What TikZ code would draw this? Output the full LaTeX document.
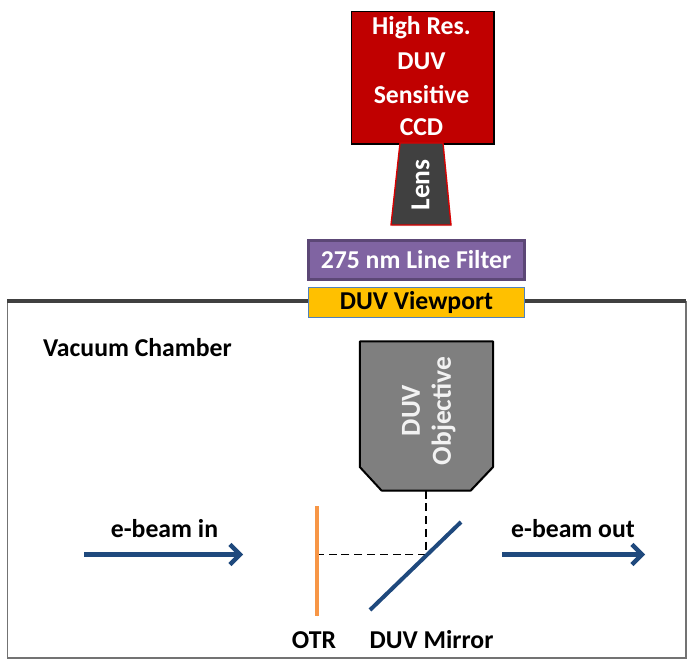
\documentclass[tikz,border=0pt]{standalone}
\usepackage{fontspec}
\setmainfont{Carlito}
\usetikzlibrary{arrows.meta,shadows}
\definecolor{ccdred}{HTML}{C00000}
\definecolor{lensgrey}{HTML}{404040}
\definecolor{objgrey}{HTML}{7F7F7F}
\definecolor{filterfill}{HTML}{8064A2}
\definecolor{filterline}{HTML}{5C4776}
\definecolor{viewfill}{HTML}{FFC000}
\definecolor{viewline}{HTML}{4F81BD}
\definecolor{beamblue}{HTML}{1F497D}
\definecolor{otrorange}{HTML}{F79646}
\definecolor{wallgrey}{HTML}{404040}
\tikzset{
  softshadow/.style={drop shadow={opacity=0.3,shadow xshift=0.6pt,shadow yshift=-0.9pt}},
  lbl/.style={font=\bfseries\fontsize{19.3}{19.3}\selectfont,text=black,inner sep=0pt,anchor=center},
  whitelbl/.style={lbl,text=white},
  biglbl/.style={whitelbl,rotate=90,font=\bfseries\fontsize{20.6}{20.6}\selectfont},
  boxy/.style={draw,inner sep=0pt,anchor=north west,softshadow},
  beam/.style={draw=beamblue,line width=3.2pt,softshadow,
     -{Straight Barb[length=7.5pt,width=15pt,line width=3.2pt]}},
  mirrorline/.style={line width=3pt,softshadow},
  ray/.style={draw=black,line width=0.8pt,dash pattern=on 6pt off 3.6pt},
}
\begin{document}
\begin{tikzpicture}[x=0.75pt,y=-0.75pt]
\useasboundingbox (0,0) rectangle (687,660);
% chamber
\draw[black!55,line width=0.9pt] (7.5,301) -- (7.5,658) -- (686,658) -- (686,301);
\draw[wallgrey,line width=3pt,softshadow] (7,301) -- (686,301);
% camera
\node[boxy,fill=ccdred,draw=black,line width=1pt,minimum width=107pt,minimum height=99.5pt] (ccd) at (350.7,10.7) {};
\path[fill=lensgrey,draw=red!85!black,line width=1pt,softshadow] (400,143) -- (443,143) -- (451,225) -- (391,225) -- cycle;
\node[biglbl] (lens) at (420.5,185) {Lens};
\node[whitelbl] (t1) at (421.5,28) {High Res.};
\node[whitelbl] (t2) at (421.5,61) {DUV};
\node[whitelbl] (t3) at (421.5,94.5) {Sensitive};
\node[whitelbl] (t4) at (421.5,127.5) {CCD};
% filter and viewport
\node[boxy,fill=filterfill,draw=filterline,line width=2pt,minimum width=162pt,minimum height=29pt] (filter) at (307.3,239.2) {};
\node[whitelbl] (ftxt) at (416,260) {275 nm Line Filter};
\node[boxy,fill=viewfill,draw=viewline,line width=1pt,minimum width=162pt,minimum height=22.2pt] (view) at (307.7,287) {};
\node[lbl] (vtxt) at (416.5,302.5) {DUV Viewport};
% objective
\path[fill=objgrey,draw=black,line width=1.5pt,line join=round,softshadow] (359.8,341.5) -- (493,341.5) -- (493,467) -- (470.7,490.5) -- (381.5,490.5) -- (359.8,467) -- cycle;
\coordinate (objout) at (426,490.5);
\node[biglbl,text=white!95!black] (o1) at (411,410.5) {DUV};
\node[biglbl,text=white!95!black] (o2) at (443.5,411) {Objective};
% optics
\coordinate (m1) at (370,610);
\coordinate (m2) at (461,522);
\coordinate (o1a) at (316.5,506);
\coordinate (o1b) at (316.5,616);
\coordinate (bend) at (426,554.7);
\coordinate (otrhit) at (317,554.7);
\draw[ray] (objout) -- (bend) -- (otrhit);
\draw[otrorange,mirrorline] (o1a) -- (o1b);
\draw[beamblue,mirrorline] (m1) -- (m2);
% beams
\coordinate (ina) at (84,554.5);
\coordinate (inb) at (243,554.5);
\coordinate (outa) at (502,554.5);
\coordinate (outb) at (645,554.5);
\draw[beam] (ina) -- (inb);
\draw[beam] (outa) -- (outb);
% labels
\node[lbl] (vac) at (137.5,348) {Vacuum Chamber};
\node[lbl] (in) at (164.5,529) {e-beam in};
\node[lbl] (out) at (573,529) {e-beam out};
\node[lbl] (otr) at (314,640) {OTR};
\node[lbl] (mir) at (431.5,640) {DUV Mirror};
\end{tikzpicture}
\end{document}
